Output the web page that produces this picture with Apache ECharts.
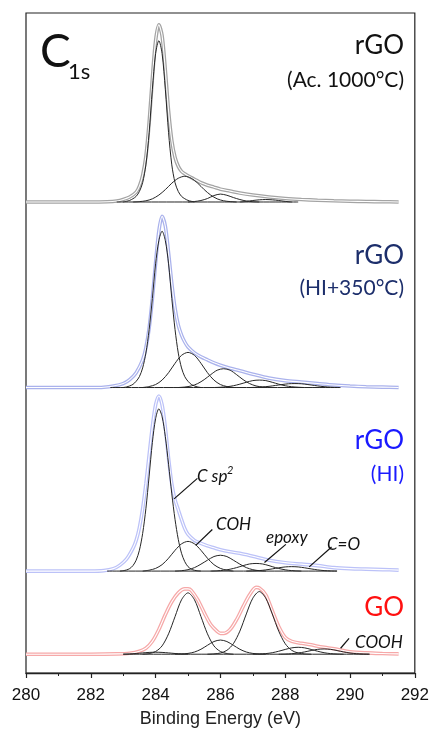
<!DOCTYPE html>
<html>
<head>
<meta charset="utf-8">
<script src="https://cdn.jsdelivr.net/npm/echarts@6/dist/echarts.min.js"></script>
<style>
  html, body { margin: 0; padding: 0; background: #fff; }
  #main { width: 432px; height: 733px; }
</style>
</head>
<body>
<div id="main"></div>
<script>
// C1s XPS spectra, 4 samples stacked. values are [binding energy (eV), intensity (a.u.)]

// x axis
var xTicks = [280, 282, 284, 286, 288, 290, 292];

// ---- rGO (Ac. 1000°C) ----
var ac_data = [[280,0],[281,0],[282,0],[282.5,0.3],[282.8,1],[283.0,2.5],[283.2,5],[283.4,10],[283.5,16],[283.6,27],[283.7,46],[283.8,80],[283.9,125],[284.0,163],[284.1,179],[284.2,168],[284.3,133],[284.4,92],[284.5,62],[284.6,45],[284.7,36],[284.8,31],[284.9,28.5],[285.0,26.5],[285.2,23],[285.4,19.5],[285.6,17],[285.8,15],[286.0,13],[286.3,11],[286.6,9],[287.0,7],[287.5,5],[288.0,3.5],[288.5,2.5],[289.0,1.8],[289.5,1.2],[290.0,0.8],[290.5,0.5],[291.0,0.3],[291.5,0]];
var ac_bg = [[282.8,0],[288.4,0]];
var ac_main = [[283.0,0],[283.1,0.7],[283.2,1.6],[283.3,3.3],[283.4,5.7],[283.5,10.6],[283.6,19.5],[283.7,37.5],[283.8,70],[283.9,114],[284.0,150],[284.1,163],[284.2,150],[284.3,114],[284.4,70],[284.5,37.5],[284.6,19.5],[284.7,10.6],[284.8,5.7],[284.9,3.3],[285.0,1.6],[285.1,0.7],[285.2,0]];
var ac_coh = [[283.3,0],[283.5,0.4],[283.7,1.2],[283.9,3.2],[284.1,7],[284.3,12.5],[284.5,19],[284.7,24],[284.9,26],[285.1,24],[285.3,19],[285.5,12.5],[285.7,7],[285.9,3.2],[286.1,1.2],[286.3,0.4],[286.5,0]];
var ac_epoxy = [[285.0,0],[285.2,0.5],[285.4,1.5],[285.6,3.5],[285.8,6.5],[286.0,8],[286.2,6.8],[286.4,4.5],[286.6,2.5],[286.8,1],[287.0,0.3],[287.2,0]];
var ac_co = [[286.6,0],[286.8,0.6],[287.0,1.5],[287.2,2.2],[287.4,2.5],[287.6,2.2],[287.8,1.5],[288.0,0.6],[288.2,0]];

// ---- rGO (HI+350°C) ----
var h2_data = [[280,0],[281,0],[282,0],[282.4,0.3],[282.7,1.5],[283.0,4],[283.2,8],[283.4,15],[283.6,28],[283.7,40],[283.8,60],[283.9,90],[284.0,126],[284.1,158],[284.2,173],[284.3,163],[284.4,136],[284.5,105],[284.6,80],[284.7,63],[284.8,53],[284.9,46],[285.0,41],[285.2,35],[285.4,31],[285.6,28],[285.8,25],[286.0,22.5],[286.3,19.5],[286.6,17],[287.0,13.5],[287.5,9.5],[288.0,7],[288.5,5.5],[289.0,4],[289.5,2.5],[290.0,1.5],[290.5,0.8],[291.0,0.4],[291.5,0]];
var h2_bg = [[282.6,0],[289.7,0]];
var h2_main = [[283.0,0],[283.1,0.6],[283.2,1.6],[283.3,3.2],[283.4,6.3],[283.5,11],[283.6,19.8],[283.7,34.8],[283.8,58.5],[283.9,90],[284.0,125],[284.1,148.5],[284.2,158],[284.3,148.5],[284.4,125],[284.5,90],[284.6,58.5],[284.7,34.8],[284.8,19.8],[284.9,11],[285.0,6.3],[285.1,3.2],[285.2,1.6],[285.3,0.6],[285.4,0]];
var h2_coh = [[283.6,0],[283.8,1],[284.0,3],[284.2,7.5],[284.4,15],[284.6,24.5],[284.8,32.5],[285.0,35.5],[285.2,32.5],[285.4,24.5],[285.6,15],[285.8,7.5],[286.0,3],[286.2,1],[286.4,0]];
var h2_epoxy = [[284.7,0],[284.9,0.5],[285.1,1.6],[285.3,4],[285.5,8],[285.7,13],[285.9,17.5],[286.1,19],[286.3,17.5],[286.5,13],[286.7,8],[286.9,4],[287.1,1.6],[287.3,0.5],[287.5,0]];
var h2_co = [[285.8,0],[286.0,0.3],[286.2,0.8],[286.4,1.8],[286.6,3.4],[286.8,5.3],[287.0,7],[287.2,7.5],[287.4,7],[287.6,5.3],[287.8,3.4],[288.0,1.8],[288.2,0.8],[288.4,0.3],[288.6,0]];
var h2_cooh = [[286.9,0],[287.1,0.2],[287.3,0.6],[287.5,1.2],[287.7,2.1],[287.9,3],[288.1,3.8],[288.3,4],[288.5,3.8],[288.7,3],[288.9,2.1],[289.1,1.2],[289.3,0.6],[289.5,0.2],[289.7,0]];

// ---- rGO (HI) ----
var hi_data = [[280,0],[281,0],[282,0],[282.4,0.5],[282.7,2.5],[282.9,6],[283.1,12],[283.3,23],[283.4,31],[283.5,44],[283.6,63],[283.7,88],[283.8,117],[283.9,146],[284.0,168],[284.1,177],[284.2,168],[284.3,145],[284.4,114],[284.5,88],[284.6,72],[284.7,62],[284.8,52],[284.9,43],[285.0,37],[285.2,31],[285.4,28],[285.6,25.5],[285.8,23.5],[286.0,21.5],[286.3,19.5],[286.6,18],[287.0,15],[287.5,11],[288.0,8.5],[288.5,7],[289.0,5.5],[289.5,3.5],[290.0,2.5],[290.5,2],[291.0,1.5],[291.5,1]];
var hi_bg = [[282.5,0],[289.6,0]];
var hi_main = [[282.9,0],[283.0,0.4],[283.1,1.1],[283.2,2.5],[283.3,5.5],[283.4,11],[283.5,21],[283.6,38],[283.7,63],[283.8,96],[283.9,130],[284.0,154],[284.1,164],[284.2,156],[284.3,136],[284.4,108],[284.5,78],[284.6,52],[284.7,32],[284.8,18],[284.9,9.5],[285.0,4.5],[285.1,2],[285.2,0.8],[285.3,0.3],[285.4,0]];
var hi_coh = [[283.6,0],[283.8,0.9],[284.0,2.7],[284.2,6.5],[284.4,13],[284.6,21],[284.8,27.5],[285.0,30],[285.2,27.5],[285.4,21],[285.6,13],[285.8,6.5],[286.0,2.7],[286.2,0.9],[286.4,0]];
var hi_c3 = [[284.6,0],[284.8,0.4],[285.0,1.4],[285.2,3.5],[285.4,7],[285.6,11],[285.8,14.7],[286.0,16],[286.2,14.7],[286.4,11],[286.6,7],[286.8,3.5],[287.0,1.4],[287.2,0.4],[287.4,0]];
var hi_epoxy = [[285.7,0],[285.9,0.3],[286.1,0.8],[286.3,1.9],[286.5,3.5],[286.7,5.5],[286.9,7.2],[287.1,7.7],[287.3,7.2],[287.5,5.5],[287.7,3.5],[287.9,1.9],[288.1,0.8],[288.3,0.3],[288.5,0]];
var hi_co = [[286.8,0],[287.0,0.2],[287.2,0.5],[287.4,1.2],[287.6,2.2],[287.8,3.3],[288.0,4.2],[288.2,4.5],[288.4,4.2],[288.6,3.3],[288.8,2.2],[289.0,1.2],[289.2,0.5],[289.4,0.2],[289.6,0]];

// ---- GO ----
var go_data = [[280,0],[281,0],[282,0],[282.8,0.3],[283.2,1],[283.5,3],[283.7,6],[283.9,13],[284.1,25],[284.3,40],[284.5,53],[284.7,62],[284.9,66],[285.0,66],[285.1,64.5],[285.3,55],[285.5,42],[285.7,30],[285.9,23],[286.0,21],[286.1,21],[286.3,25],[286.5,35],[286.7,48],[286.9,60],[287.1,67.5],[287.2,67],[287.4,60],[287.6,44],[287.8,28],[288.0,17],[288.2,13],[288.5,11],[288.8,9.5],[289.0,8],[289.3,6.5],[289.6,5],[290.0,2.5],[290.5,1.3],[291.0,0.7],[291.5,0.3]];
var go_bg = [[283.0,0],[290.6,0]];
var go_c0 = [[283.0,0],[283.2,0.3],[283.4,0.7],[283.6,1.3],[283.8,1.8],[284.0,2],[284.2,1.8],[284.4,1.3],[284.6,0.7],[284.8,0.3],[285.0,0]];
var go_c1 = [[283.6,0],[283.8,0.7],[284.0,2.7],[284.2,8.4],[284.4,20.6],[284.6,38],[284.8,55],[285.0,62],[285.2,55],[285.4,38],[285.6,20.6],[285.8,8.4],[286.0,2.7],[286.2,0.7],[286.4,0]];
var go_c2 = [[284.6,0],[284.8,0.2],[285.0,0.8],[285.2,2.2],[285.4,5],[285.6,9],[285.8,12.8],[286.0,14.3],[286.2,12.8],[286.4,9],[286.6,5],[286.8,2.2],[287.0,0.8],[287.2,0.2],[287.4,0]];
var go_c3 = [[285.6,0],[285.8,0.3],[286.0,1.2],[286.2,3.9],[286.4,10.6],[286.6,23.3],[286.8,40.7],[287.0,56.6],[287.2,63.3],[287.4,56.6],[287.6,40.7],[287.8,23.3],[288.0,10.6],[288.2,3.9],[288.4,1.2],[288.6,0.3],[288.8,0]];
var go_c4 = [[287.0,0],[287.2,0.2],[287.4,0.6],[287.6,1.5],[287.8,3],[288.0,4.8],[288.2,6.4],[288.4,7],[288.6,6.4],[288.8,4.8],[289.0,3],[289.2,1.5],[289.4,0.6],[289.6,0.2],[289.8,0]];
var go_cooh = [[287.8,0],[288.0,0.15],[288.2,0.5],[288.4,1.2],[288.6,2.3],[288.8,3.7],[289.0,4.9],[289.2,5.3],[289.4,4.9],[289.6,3.7],[289.8,2.3],[290.0,1.2],[290.2,0.5],[290.4,0.15],[290.6,0]];

// leader lines for the peak labels (HI panel and GO panel), [E, intensity]
var lead_csp2 = [[285.29, 93.7], [284.57, 73]];
var lead_coh = [[285.75, 42], [285.24, 26]];
var lead_epoxy = [[288.02, 27], [287.36, 8.7]];
var lead_co = [[289.43, 24.3], [288.74, 4.3]];
var lead_cooh = [[289.97, 16], [289.71, 6]];

var panels = [
  { data: ac_data, comps: [ac_bg, ac_main, ac_coh, ac_epoxy, ac_co], offset: 476, bead: '#a4a4a4', leads: [] },
  { data: h2_data, comps: [h2_bg, h2_main, h2_coh, h2_epoxy, h2_co, h2_cooh], offset: 288.5, bead: '#aab2ec', leads: [] },
  { data: hi_data, comps: [hi_bg, hi_main, hi_coh, hi_c3, hi_epoxy, hi_co], offset: 103, bead: '#bcc2f8', leads: [lead_csp2, lead_coh, lead_epoxy, lead_co] },
  { data: go_data, comps: [go_bg, go_c0, go_c1, go_c2, go_c3, go_c4, go_cooh], offset: 19, bead: '#f6a8a8', leads: [lead_cooh] }
];

function shift(arr, off) {
  return arr.map(function (p) { return [p[0], p[1] + off]; });
}

var series = [];
panels.forEach(function (p) {
  var d = shift(p.data, p.offset);
  // data points: hollow bead look
  series.push({
    type: 'line', data: d, smooth: 0.3, showSymbol: false, z: 1,
    lineStyle: { color: p.bead, width: 3.6 }
  });
  series.push({
    type: 'line', data: d, smooth: 0.3, showSymbol: false, z: 2,
    lineStyle: { color: '#ffffff', width: 1.1 }
  });
  p.comps.forEach(function (c) {
    series.push({
      type: 'line', data: shift(c, p.offset), smooth: 0.3, showSymbol: false, z: 3,
      lineStyle: { color: '#262626', width: 1 }
    });
  });
  if (p.leads.length) {
    series.push({
      type: 'line', data: [], z: 4,
      markLine: {
        silent: true, symbol: 'none', label: { show: false },
        lineStyle: { color: '#111', width: 1.2, type: 'solid' },
        data: p.leads.map(function (l) {
          return [{ coord: [l[0][0], l[0][1] + p.offset] }, { coord: [l[1][0], l[1][1] + p.offset] }];
        })
      }
    });
  }
});

var chart = echarts.init(document.getElementById('main'), null, { renderer: 'canvas' });

var sans = 'Lato';
var tickFont = 'Liberation Sans';

chart.setOption({
  animation: false,
  backgroundColor: '#ffffff',
  grid: { left: 26, right: 16, top: 13, bottom: 53, show: true, borderColor: '#222', borderWidth: 1.2, backgroundColor: 'transparent' },
  xAxis: {
    type: 'value', min: xTicks[0], max: xTicks[xTicks.length - 1], interval: 2,
    axisLine: { show: true, lineStyle: { color: '#222', width: 1.3 } },
    axisTick: { show: true, length: 5, lineStyle: { color: '#222', width: 1.2 } },
    minorTick: { show: true, splitNumber: 2, length: 3, lineStyle: { color: '#222', width: 1 } },
    splitLine: { show: false },
    axisLabel: { fontSize: 17, color: '#111', fontFamily: tickFont, margin: 14 },
    name: 'Binding Energy (eV)', nameLocation: 'middle', nameGap: 37,
    nameTextStyle: { fontSize: 18, color: '#222', fontFamily: tickFont }
  },
  yAxis: { type: 'value', min: 0, max: 667, show: false },
  series: series,
  graphic: [
    { type: 'text', x: 40, y: 52, style: { text: 'C', font: '46px ' + sans, fill: '#111', align: 'left', verticalAlign: 'middle' } },
    { type: 'text', x: 68, y: 72, style: { text: '1s', font: '22px ' + sans, fill: '#111', align: 'left', verticalAlign: 'middle' } },

    { type: 'text', x: 404, y: 46, style: { text: 'rGO', font: '26px ' + sans, fill: '#111', align: 'right', verticalAlign: 'middle' } },
    { type: 'text', x: 404, y: 80, style: { text: '(Ac. 1000°C)', font: '21px ' + sans, fill: '#111', align: 'right', verticalAlign: 'middle' } },

    { type: 'text', x: 404, y: 256, style: { text: 'rGO', font: '26px ' + sans, fill: '#1c2e6b', align: 'right', verticalAlign: 'middle' } },
    { type: 'text', x: 404, y: 288, style: { text: '(HI+350°C)', font: '21px ' + sans, fill: '#1c2e6b', align: 'right', verticalAlign: 'middle' } },

    { type: 'text', x: 404, y: 441, style: { text: 'rGO', font: '26px ' + sans, fill: '#1a1aff', align: 'right', verticalAlign: 'middle' } },
    { type: 'text', x: 404, y: 474, style: { text: '(HI)', font: '21px ' + sans, fill: '#1a1aff', align: 'right', verticalAlign: 'middle' } },

    { type: 'text', x: 404, y: 608, style: { text: 'GO', font: '26px ' + sans, fill: '#ff1010', align: 'right', verticalAlign: 'middle' } },

    { type: 'text', x: 197, y: 477, style: { text: 'C sp', font: 'italic 17px ' + sans, fill: '#111', align: 'left', verticalAlign: 'middle' } },
    { type: 'text', x: 227, y: 470, style: { text: '2', font: 'italic 11px ' + sans, fill: '#111', align: 'left', verticalAlign: 'middle' } },
    { type: 'text', x: 216, y: 525, style: { text: 'COH', font: 'italic 17px ' + sans, fill: '#111', align: 'left', verticalAlign: 'middle' } },
    { type: 'text', x: 266, y: 538, style: { text: 'epoxy', font: 'italic 17px ' + sans, fill: '#111', align: 'left', verticalAlign: 'middle' } },
    { type: 'text', x: 327, y: 545, style: { text: 'C=O', font: 'italic 17px ' + sans, fill: '#111', align: 'left', verticalAlign: 'middle' } },
    { type: 'text', x: 355, y: 643, style: { text: 'COOH', font: 'italic 17px ' + sans, fill: '#111', align: 'left', verticalAlign: 'middle' } }
  ]
});
</script>
</body>
</html>
